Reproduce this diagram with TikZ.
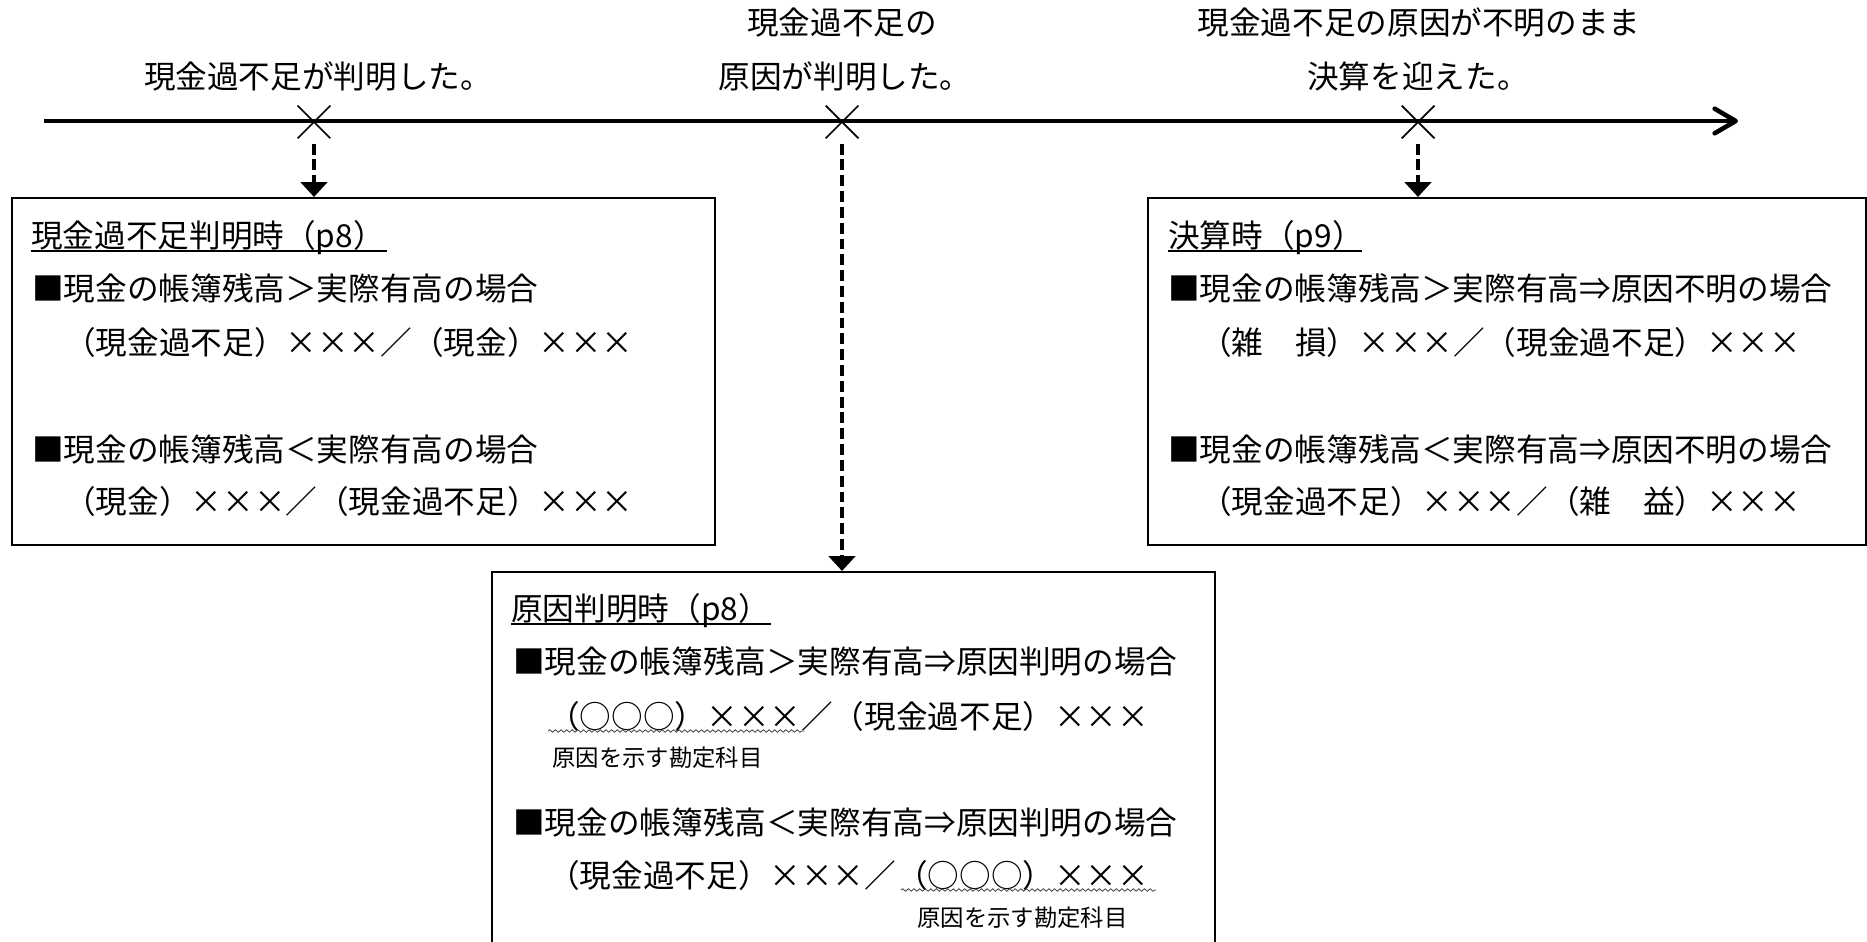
\documentclass[tikz,border=0pt]{standalone}
\usepackage{fontspec}
\setmainfont{Noto Sans CJK JP}
\usetikzlibrary{arrows.meta,shapes.misc,decorations.pathmorphing}
\newcommand{\batu}{\makebox[1em]{×}}
\newcommand{\xxx}{\batu\batu\batu}

\begin{document}
\begin{tikzpicture}[x=0.02cm,y=-0.02cm,
  lbl/.style={inner sep=0pt,font=\fontsize{18}{22}\selectfont,text height=15pt,text depth=1.5pt},
  txt/.style={lbl,anchor=west},
  note/.style={inner sep=0pt,anchor=west,font=\fontsize{13.3}{16}\selectfont,text height=11pt,text depth=1pt},
  evmark/.style={cross out,draw,line width=1pt,minimum size=0.62cm,inner sep=0pt},
  panel/.style={draw,line width=1pt,anchor=north west,inner sep=0pt},
  timeline/.style={line width=2.6pt,-{Straight Barb[length=12pt,width=14pt,round]}},
  dasharrow/.style={line width=2.1pt,dash pattern=on 6.2pt off 2.8pt,shorten <=3pt,
    -{Triangle[length=8.5pt,width=15pt]}},
  uline/.style={line width=0.7pt},
  wavy/.style={line width=0.45pt,black!75,decorate,decoration={snake,amplitude=0.7pt,segment length=3.2pt}}]

\clip (0,0) rectangle (1867,942);

% time line
\coordinate (tlL) at (44,121);
\coordinate (tlR) at (1738,121);
\draw[timeline] (tlL) -- (tlR);

\node[evmark] (ev1) at (314,122) {};
\node[evmark] (ev2) at (842,122) {};
\node[evmark] (ev3) at (1418,122) {};

\node[lbl] (lblA) at (318,77) {現金過不足が判明した。};
\node[lbl] (lblB1) at (842,23) {現金過不足の};
\node[lbl] (lblB2) at (845,77) {原因が判明した。};
\node[lbl] (lblC1) at (1419,23) {現金過不足の原因が不明のまま};
\node[lbl] (lblC2) at (1418,77) {決算を迎えた。};

% panels
\node[panel,minimum width=14.06cm,minimum height=6.94cm] (boxL) at (11,197) {};
\node[panel,minimum width=14.46cm,minimum height=8.2cm] (boxM) at (491,571) {};
\node[panel,minimum width=14.36cm,minimum height=6.94cm] (boxR) at (1147,197) {};

\draw[dasharrow] (ev1.south) -- (ev1.south |- boxL.north);
\draw[dasharrow] (ev2.south) -- (ev2.south |- boxM.north);
\draw[dasharrow] (ev3.south) -- (ev3.south |- boxR.north);

% left panel
\node[txt] (hdrL) at (31,236) {現金過不足判明時（p8）};
\draw[uline] (31,251) -- (387,251);
\node[txt] (l1) at (32,289) {■現金の帳簿残高＞実際有高の場合};
\node[txt] (l2) at (64,343) {（現金過不足）\xxx／（現金）\xxx};
\node[txt] (l3) at (32,450) {■現金の帳簿残高＜実際有高の場合};
\node[txt] (l4) at (64,502) {（現金）\xxx／（現金過不足）\xxx};

% middle panel
\node[txt] (hdrM) at (511,609) {原因判明時（p8）};
\draw[uline] (511,624) -- (771,624);
\node[txt] (m1) at (513,662) {■現金の帳簿残高＞実際有高⇒原因判明の場合};
\node[txt] (m2) at (548,717) {（○○○）\xxx／（現金過不足）\xxx};
\draw[wavy] (548,731) -- (804,731);
\node[note] (m2n) at (552,758) {原因を示す勘定科目};
\node[txt] (m3) at (513,823) {■現金の帳簿残高＜実際有高⇒原因判明の場合};
\node[txt] (m4) at (548,876) {（現金過不足）\xxx／（○○○）\xxx};
\draw[wavy] (901,890) -- (1156,890);
\node[note] (m4n) at (917,918) {原因を示す勘定科目};

% right panel
\node[txt] (hdrR) at (1168,236) {決算時（p9）};
\draw[uline] (1168,251) -- (1362,251);
\node[txt] (r1) at (1168,289) {■現金の帳簿残高＞実際有高⇒原因不明の場合};
\node[txt] (r2) at (1200,343) {（雑　損）\xxx／（現金過不足）\xxx};
\node[txt] (r3) at (1168,450) {■現金の帳簿残高＜実際有高⇒原因不明の場合};
\node[txt] (r4) at (1200,502) {（現金過不足）\xxx／（雑　益）\xxx};

\end{tikzpicture}
\end{document}
